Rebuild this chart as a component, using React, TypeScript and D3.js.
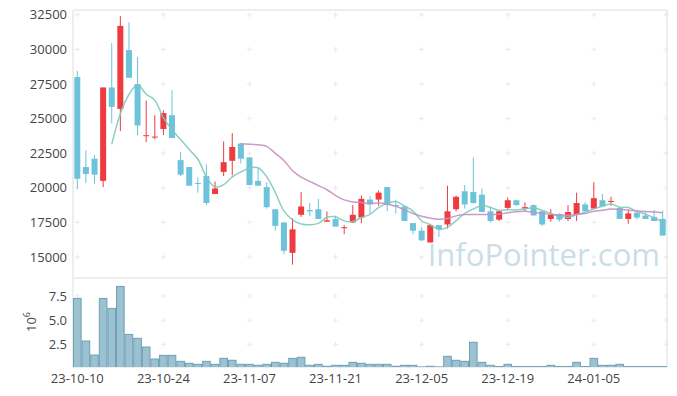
import { scaleLinear, line as d3Line, curveCatmullRom } from "d3";

// trading days (KRX), 23-10-10 .. 24-01-17
const dates = [
  "23-10-10", "23-10-11", "23-10-12", "23-10-13", "23-10-16", "23-10-17", "23-10-18", "23-10-19", "23-10-20", "23-10-23",
  "23-10-24", "23-10-25", "23-10-26", "23-10-27", "23-10-30", "23-10-31", "23-11-01", "23-11-02", "23-11-03", "23-11-06",
  "23-11-07", "23-11-08", "23-11-09", "23-11-10", "23-11-13", "23-11-14", "23-11-15", "23-11-16", "23-11-17", "23-11-20",
  "23-11-21", "23-11-22", "23-11-23", "23-11-24", "23-11-27", "23-11-28", "23-11-29", "23-11-30", "23-12-01", "23-12-04",
  "23-12-05", "23-12-06", "23-12-07", "23-12-08", "23-12-11", "23-12-12", "23-12-13", "23-12-14", "23-12-15", "23-12-18",
  "23-12-19", "23-12-20", "23-12-21", "23-12-22", "23-12-26", "23-12-27", "23-12-28", "24-01-02", "24-01-03", "24-01-04",
  "24-01-05", "24-01-08", "24-01-09", "24-01-10", "24-01-11", "24-01-12", "24-01-15", "24-01-16", "24-01-17",
];

const open = [
  28000, 21500, 22100, 20500, 27250, 25700, 29950, 27500, 23750, 23650,
  24250, 25250, 22000, 21500, 20350, 20850, 19550, 21150, 21950, 23200,
  22200, 20500, 20050, 18450, 17500, 15300, 18050, 18400, 18450, 17550,
  17750, 17100, 17500, 17850, 19150, 19150, 20050, 18750, 18650, 17450,
  16900, 16050, 17300, 17350, 18450, 19750, 19700, 19500, 18300, 17700,
  18550, 19100, 18500, 18750, 18300, 17750, 18100, 17750, 18050, 18800,
  18500, 19100, 19000, 18550, 17750, 18200, 18000, 17900, 17750,
];
const high = [
  28450, 22700, 22350, 27250, 30450, 32400, 31950, 29450, 26300, 25250,
  25600, 27050, 22600, 21500, 20750, 21700, 20450, 23350, 23950, 23250,
  22200, 21450, 20400, 18450, 17500, 17800, 19700, 18900, 19200, 18300,
  18000, 17300, 18750, 19450, 19400, 19800, 20050, 19100, 18700, 17450,
  17150, 17400, 17300, 20150, 19450, 20200, 22200, 19950, 18650, 18350,
  19300, 19150, 18950, 18800, 18300, 18450, 18150, 18750, 19650, 18950,
  20400, 19550, 19350, 18600, 18450, 18250, 18250, 18400, 18350,
];
const low = [
  19950, 20350, 20300, 20050, 24650, 24100, 27950, 23800, 23300, 23500,
  23800, 23600, 20850, 20150, 19650, 18750, 19550, 20850, 20900, 21750,
  20200, 20150, 18500, 16900, 15200, 14450, 17900, 17950, 17750, 17550,
  17200, 16650, 17450, 17450, 18150, 18700, 18300, 18150, 17600, 16650,
  16150, 16050, 16450, 17050, 18300, 18500, 18850, 18250, 17500, 17600,
  18350, 18700, 18250, 18000, 17250, 17550, 17550, 17600, 17600, 18300,
  18450, 18650, 18700, 17750, 17400, 17700, 17750, 17600, 16550,
];
const close = [
  20650, 21000, 20950, 27250, 25850, 31700, 27950, 24500, 23800, 23700,
  25400, 23600, 20950, 20150, 20300, 18900, 19950, 21850, 22950, 22100,
  20200, 20150, 18600, 17250, 15450, 17000, 18650, 18300, 17750, 17650,
  17200, 17150, 18050, 19200, 18800, 19650, 18750, 18650, 17600, 16900,
  16200, 17300, 17000, 18300, 19350, 18800, 18900, 18250, 17600, 18300,
  19100, 18750, 18600, 18000, 17350, 18050, 17700, 18250, 18900, 18300,
  19250, 18650, 19050, 17750, 18150, 17850, 17750, 17600, 16550,
];
// volume, millions of shares
const volume = [
  7.25, 2.84, 1.39, 7.25, 6.22, 8.49, 3.53, 3.12, 2.22, 0.98,
  1.36, 1.36, 0.74, 0.54, 0.43, 0.74, 0.43, 1.05, 0.85, 0.43,
  0.43, 0.33, 0.43, 0.64, 0.54, 1.05, 1.16, 0.33, 0.43, 0.23,
  0.33, 0.33, 0.64, 0.54, 0.43, 0.43, 0.43, 0.23, 0.33, 0.33,
  0.16, 0.23, 0.16, 1.26, 0.85, 0.74, 2.71, 0.64, 0.33, 0.2,
  0.43, 0.2, 0.2, 0.2, 0.2, 0.33, 0.2, 0.2, 0.64, 0.2,
  1.05, 0.33, 0.33, 0.43, 0.2, 0.2, 0.2, 0.2, 0.2,
];

const priceTicks = [15000, 17500, 20000, 22500, 25000, 27500, 30000, 32500];
const volumeTicks = [2.5, 5.0, 7.5];
const tickEvery = 10;

const W = 677;
const H = 396;
const LEFT = 73;
const RIGHT = 667;
const PRICE_TOP = 10;
const SPLIT = 278;
const BOTTOM = 367;

const UP = "#ee3b40";
const DOWN = "#6cc3da";
const FONT = "'Open Sans', sans-serif";

function movingAvg(vals: number[], n: number) {
  return vals.map((_, i) => {
    if (i < n - 1) return null;
    let s = 0;
    for (let k = i - n + 1; k <= i; k++) s += vals[k];
    return s / n;
  });
}

function Cross({ x, y }: { x: number; y: number }) {
  return (
    <g stroke="#e9e9e9" strokeWidth={1}>
      <line x1={x - 2.5} x2={x + 2.5} y1={y} y2={y} />
      <line x1={x} x2={x} y1={y - 2.5} y2={y + 2.5} />
    </g>
  );
}

export default function App() {
  const n = close.length;
  const x = scaleLinear().domain([-0.5, n - 0.5]).range([LEFT, RIGHT]);
  const step = x(1) - x(0);
  const y = scaleLinear().domain([15000, 32500]).range([257, 14.8]);
  const yv = scaleLinear().domain([0, 7.5]).range([368.5, 296]);

  const ma5 = movingAvg(close, 5);
  const ma20 = movingAvg(close, 20);
  const maLine = (vals: (number | null)[]) =>
    d3Line<number | null>()
      .defined((d) => d !== null)
      .x((_, i) => x(i))
      .y((d) => y(d as number))
      .curve(curveCatmullRom.alpha(0.5))(vals) ?? "";

  const tickIdx = dates.map((_, i) => i).filter((i) => i % tickEvery === 0);
  const gridX = [...tickIdx.map((i) => x(i)), RIGHT - 1];

  return (
    <svg
      width={W}
      height={H}
      viewBox={`0 0 ${W} ${H}`}
      style={{ position: "absolute", left: 0, top: 0, background: "#fff" }}
      fontFamily={FONT}
    >
      <defs>
        <clipPath id="pricePanel">
          <rect x={LEFT} y={PRICE_TOP} width={RIGHT - LEFT} height={SPLIT - PRICE_TOP} />
        </clipPath>
        <clipPath id="volPanel">
          <rect x={LEFT} y={SPLIT} width={RIGHT - LEFT} height={BOTTOM - SPLIT} />
        </clipPath>
      </defs>

      {/* grid crosses */}
      {gridX.map((gx) =>
        priceTicks.map((t) => <Cross key={`p${gx}-${t}`} x={gx} y={y(t)} />)
      )}
      {gridX.map((gx) =>
        volumeTicks.map((t) => <Cross key={`v${gx}-${t}`} x={gx} y={yv(t)} />)
      )}

      {/* frame */}
      <g stroke="#e8e8e8" strokeWidth={1.5} fill="none">
        <line x1={LEFT} x2={RIGHT} y1={PRICE_TOP} y2={PRICE_TOP} />
        <line x1={LEFT} x2={RIGHT} y1={SPLIT} y2={SPLIT} />
        <line x1={LEFT} x2={RIGHT} y1={BOTTOM} y2={BOTTOM} />
        <line x1={LEFT} x2={LEFT} y1={PRICE_TOP} y2={BOTTOM} />
        <line x1={RIGHT} x2={RIGHT} y1={PRICE_TOP} y2={BOTTOM} />
      </g>

      {/* watermark */}
      <text
        x={660}
        y={266}
        textAnchor="end"
        fontSize={31}
        fill="#c4d9e5"
        fillOpacity={0.9}
      >
        InfoPointer.com
      </text>

      {/* candles */}
      <g clipPath="url(#pricePanel)">
        {close.map((c, i) => {
          const o = open[i];
          const col = c >= o ? UP : DOWN;
          const top = y(Math.max(o, c));
          const bot = y(Math.min(o, c));
          const cx = x(i);
          return (
            <g key={i}>
              <line x1={cx} x2={cx} y1={y(high[i])} y2={y(low[i])} stroke={col} strokeWidth={1} />
              <rect x={cx - 3} y={top} width={6} height={Math.max(1, bot - top)} fill={col} />
            </g>
          );
        })}
        <path d={maLine(ma5)} fill="none" stroke="#80cabd" strokeWidth={1.5} strokeOpacity={0.9} />
        <path d={maLine(ma20)} fill="none" stroke="#c68fc3" strokeWidth={1.5} strokeOpacity={0.9} />
      </g>

      {/* volume */}
      <g clipPath="url(#volPanel)">
        {volume.map((v, i) => (
          <rect
            key={i}
            x={x(i) - step / 2 + 0.5}
            y={yv(v)}
            width={step - 1}
            height={yv(0) - yv(v)}
            fill="#9cc1d1"
            stroke="#6c9fb7"
            strokeWidth={1}
          />
        ))}
      </g>

      {/* price axis labels */}
      <g fontSize={13} fill="#444" textAnchor="end">
        {priceTicks.map((t) => (
          <text key={t} x={67} y={y(t)} dy="0.35em">
            {t}
          </text>
        ))}
        {volumeTicks.map((t) => (
          <text key={t} x={67} y={yv(t)} dy="0.35em">
            {t.toFixed(1)}
          </text>
        ))}
      </g>
      <text
        transform={`translate(36,322) rotate(-90)`}
        textAnchor="middle"
        fontSize={13}
        fill="#444"
      >
        10<tspan fontSize={9} dy={-6}>6</tspan>
      </text>

      {/* date labels */}
      <g fontSize={13} fill="#444" textAnchor="middle">
        {tickIdx.map((i) => (
          <text key={i} x={x(i)} y={383}>
            {dates[i]}
          </text>
        ))}
      </g>
    </svg>
  );
}
